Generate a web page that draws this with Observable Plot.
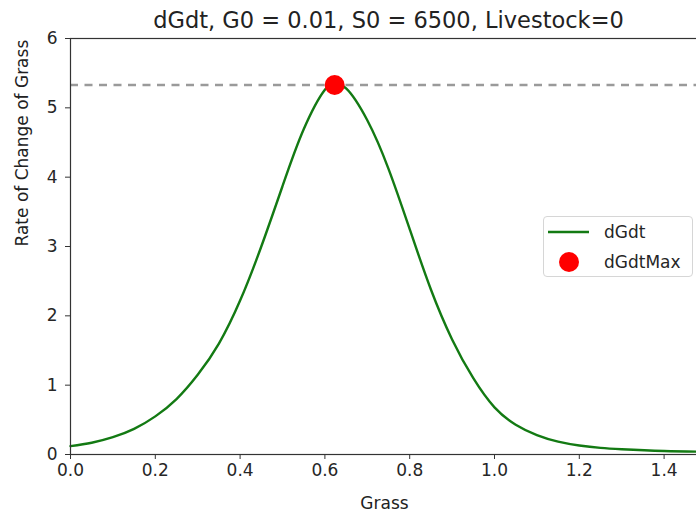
<!DOCTYPE html>
<html>
<head>
<meta charset="utf-8">
<script src="https://cdn.jsdelivr.net/npm/d3@7"></script>
<script src="https://cdn.jsdelivr.net/npm/@observablehq/plot@0.6"></script>
<style>
  html, body { margin: 0; padding: 0; background: white; }
  #chart { position: relative; width: 696px; height: 517px; overflow: hidden; font-family: "DejaVu Sans", sans-serif; }
  #chart svg { overflow: hidden; }
  .legend {
    position: absolute; left: 543px; top: 216px; width: 150px; height: 61px;
    border: 1px solid #d6d6d6; border-radius: 4px; background: rgba(255,255,255,0.85);
    box-sizing: border-box; font-size: 17px; color: #262626;
  }
  .legend .row { position: absolute; left: 0; height: 24px; display: flex; align-items: center; }
  .legend .row span { position: absolute; left: 60px; white-space: nowrap; }
</style>
</head>
<body>
<div id="chart"></div>
<script>
// Grass level and its rate of change, dGdt
const grass = [0, 0.05, 0.1, 0.15, 0.2, 0.25, 0.3, 0.35, 0.4, 0.45, 0.5, 0.55, 0.6, 0.623,
               0.65, 0.7, 0.75, 0.8, 0.85, 0.9, 0.95, 1.0, 1.05, 1.1, 1.15, 1.2, 1.25, 1.3, 1.4, 1.5];
const rate  = [0.12, 0.17, 0.25, 0.37, 0.55, 0.8, 1.15, 1.6, 2.22, 3.0, 3.87, 4.69, 5.26, 5.33,
               5.28, 4.82, 4.12, 3.25, 2.38, 1.66, 1.1, 0.68, 0.43, 0.28, 0.185, 0.13, 0.095, 0.075, 0.05, 0.04];

// Maximum of dGdt
const maxGrass = [0.623];
const maxRate = [5.33];

// Axis ticks
const xTicks = [0, 0.2, 0.4, 0.6, 0.8, 1.0, 1.2, 1.4];
const yTicks = [0, 1, 2, 3, 4, 5, 6];

const titleText = "dGdt, G0 = 0.01, S0 = 6500, Livestock=0";
const xLabel = "Grass";
const yLabel = "Rate of Change of Grass";

const curve = grass.map((g, i) => ({grass: g, rate: rate[i]}));
const peak = maxGrass.map((g, i) => ({grass: g, rate: maxRate[i]}));

const plot = Plot.plot({
  width: 696,
  height: 517,
  marginLeft: 70,
  marginRight: -10,
  marginTop: 38,
  marginBottom: 63,
  x: {domain: [0, 1.5]},
  y: {domain: [0, 6]},
  style: {fontFamily: "DejaVu Sans, sans-serif", fontSize: "17px", color: "#262626", background: "white"},
  marks: [
    Plot.ruleY(maxRate, {stroke: "#9a9a9a", strokeWidth: 2.4, strokeDasharray: "8,6.5"}),
    Plot.line(curve, {x: "grass", y: "rate", stroke: "#137a13", strokeWidth: 2.4, curve: "natural"}),
    Plot.dot(peak, {x: "grass", y: "rate", r: 10, fill: "red", stroke: "none"}),
    Plot.frame({stroke: "#333", strokeWidth: 1.2}),
    Plot.axisX(xTicks, {tickSize: 5, tickPadding: 4, tickFormat: d3.format(".1f"), label: null, stroke: "#333", fontSize: 17}),
    Plot.axisY(yTicks, {tickSize: 5, tickPadding: 8, tickFormat: d3.format("d"), label: null, stroke: "#333", fontSize: 17}),
    Plot.text([titleText], {frameAnchor: "top", lineAnchor: "middle", dy: -18, fontSize: 22.5, fill: "#222"}),
    Plot.text([xLabel], {frameAnchor: "bottom", lineAnchor: "middle", dx: -4, dy: 49, fontSize: 17, fill: "#222"}),
    Plot.text([yLabel], {frameAnchor: "left", lineAnchor: "middle", dx: -48, rotate: -90, fontSize: 17, fill: "#222"})
  ]
});

const chart = document.getElementById("chart");
chart.appendChild(plot);

// Legend box in the upper right of the axes
const legend = document.createElement("div");
legend.className = "legend";
legend.innerHTML = `
  <div class="row" style="top:3px;width:100%">
    <svg width="50" height="24" style="position:absolute;left:0"><line x1="4" x2="45" y1="12" y2="12" stroke="#137a13" stroke-width="2.4"/></svg>
    <span>dGdt</span>
  </div>
  <div class="row" style="top:33px;width:100%">
    <svg width="50" height="24" style="position:absolute;left:0"><circle cx="25" cy="12" r="10" fill="red"/></svg>
    <span>dGdtMax</span>
  </div>`;
chart.appendChild(legend);
</script>
</body>
</html>
